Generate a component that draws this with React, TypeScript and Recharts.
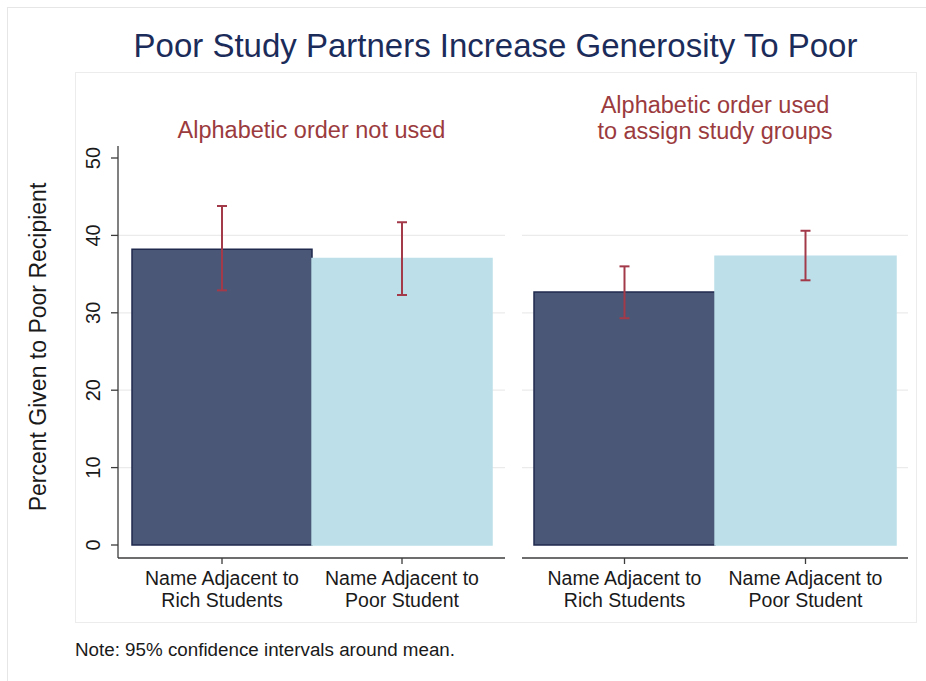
import { BarChart, Bar, XAxis, YAxis, CartesianGrid, ErrorBar, Cell } from 'recharts';

// categories and values
const categories = ['Name Adjacent to|Rich Students', 'Name Adjacent to|Poor Student'];
const notUsedMean = [38.2, 37.0];
const notUsedLow = [32.9, 32.3];
const notUsedHigh = [43.8, 41.7];
const usedMean = [32.7, 37.3];
const usedLow = [29.3, 34.2];
const usedHigh = [36.0, 40.6];
const yTicks = [0, 10, 20, 30, 40, 50];
const gridValues = [10, 20, 30, 40];

const FONT = '"Liberation Sans", Arial, Helvetica, sans-serif';
const barFill = ['#4b5777', '#bcdfe9'];
const barStroke = ['#1f2a4e', '#bcdfe9'];
const ciColor = '#a33a4a';
const axisColor = '#3c3c3c';

const buildRows = (mean: number[], lo: number[], hi: number[]) =>
  categories.map((name, i) => ({
    name,
    mean: mean[i],
    err: [mean[i] - lo[i], hi[i] - mean[i]],
  }));

const XTick = (props: any) => {
  const { x, y, payload } = props;
  const lines = String(payload.value).split('|');
  return (
    <text x={x} y={y} textAnchor="middle" fill="#1a1a1a" fontSize={19.5} fontFamily={FONT}>
      {lines.map((l, i) => (
        <tspan key={i} x={x} dy={i === 0 ? 19 : 21.5}>
          {l}
        </tspan>
      ))}
    </text>
  );
};

const YTick = (props: any) => {
  const { y, payload } = props;
  return (
    <text
      transform={`translate(${93 - 60},${y}) rotate(-90)`}
      textAnchor="middle"
      dy="0.36em"
      fill="#1a1a1a"
      fontSize={20}
      fontFamily={FONT}
    >
      {payload.value}
    </text>
  );
};

interface PanelProps {
  rows: any[];
  left: number;
  width: number;
  showY: boolean;
  padL: number;
  padR: number;
}

const Panel = ({ rows, left, width, showY, padL, padR }: PanelProps) => (
  <div style={{ position: 'absolute', left, top: 130 }}>
    <BarChart
      width={width}
      height={488}
      data={rows}
      margin={{ top: 16, right: 0, bottom: 0, left: 0 }}
      barCategoryGap={0}
    >
      <CartesianGrid vertical={false} horizontalValues={gridValues} stroke="#ebebeb" strokeWidth={1.2} />
      <XAxis
        dataKey="name"
        height={60}
        padding={{ left: padL, right: padR }}
        tick={<XTick />}
        tickSize={6}
        axisLine={{ stroke: axisColor, strokeWidth: 1.3 }}
        tickLine={{ stroke: axisColor, strokeWidth: 1.3 }}
        interval={0}
      />
      <YAxis
        hide={!showY}
        width={58}
        domain={[0, 50]}
        ticks={yTicks}
        padding={{ top: 12, bottom: 13 }}
        tick={<YTick />}
        tickSize={7}
        axisLine={{ stroke: axisColor, strokeWidth: 1.3 }}
        tickLine={{ stroke: axisColor, strokeWidth: 1.3 }}
      />
      <Bar dataKey="mean" isAnimationActive={false}>
        {rows.map((_, i) => (
          <Cell key={i} fill={barFill[i]} stroke={barStroke[i]} strokeWidth={1.5} />
        ))}
        <ErrorBar dataKey="err" width={5} stroke={ciColor} strokeWidth={2} direction="y" />
      </Bar>
    </BarChart>
  </div>
);

export default function App() {
  const notUsedRows = buildRows(notUsedMean, notUsedLow, notUsedHigh);
  const usedRows = buildRows(usedMean, usedLow, usedHigh);
  return (
    <div
      style={{
        position: 'absolute',
        left: 0,
        top: 0,
        width: 926,
        height: 681,
        overflow: 'hidden',
        background: '#fff',
        fontFamily: FONT,
      }}
    >
      <svg width={926} height={681} style={{ position: 'absolute', left: 0, top: 0 }}>
        <rect x={7.5} y={7.5} width={940} height={700} fill="none" stroke="#e6e6e6" />
        <rect x={75.5} y={72.5} width={841} height={550} fill="none" stroke="#ececec" />
        <text x={495.5} y={57} textAnchor="middle" fontSize={33} fill="#1c2c5a" fontFamily={FONT}>
          Poor Study Partners Increase Generosity To Poor
        </text>
        <text x={311.5} y={138} textAnchor="middle" fontSize={23.5} fill="#9b3b3e" fontFamily={FONT}>
          Alphabetic order not used
        </text>
        <text x={715} y={113} textAnchor="middle" fontSize={23.5} fill="#9b3b3e" fontFamily={FONT}>
          Alphabetic order used
        </text>
        <text x={715} y={139} textAnchor="middle" fontSize={23.5} fill="#9b3b3e" fontFamily={FONT}>
          to assign study groups
        </text>
        <text
          transform="translate(46,347) rotate(-90)"
          textAnchor="middle"
          fontSize={23}
          fill="#1a1a1a"
          fontFamily={FONT}
        >
          Percent Given to Poor Recipient
        </text>
        <text x={75} y={656} fontSize={18.8} fill="#1a1a1a" fontFamily={FONT}>
          Note: 95% confidence intervals around mean.
        </text>
      </svg>
      <Panel rows={notUsedRows} left={60} width={445} showY padL={14} padR={13} />
      <Panel rows={usedRows} left={522} width={386} showY={false} padL={12} padR={12} />
    </div>
  );
}
